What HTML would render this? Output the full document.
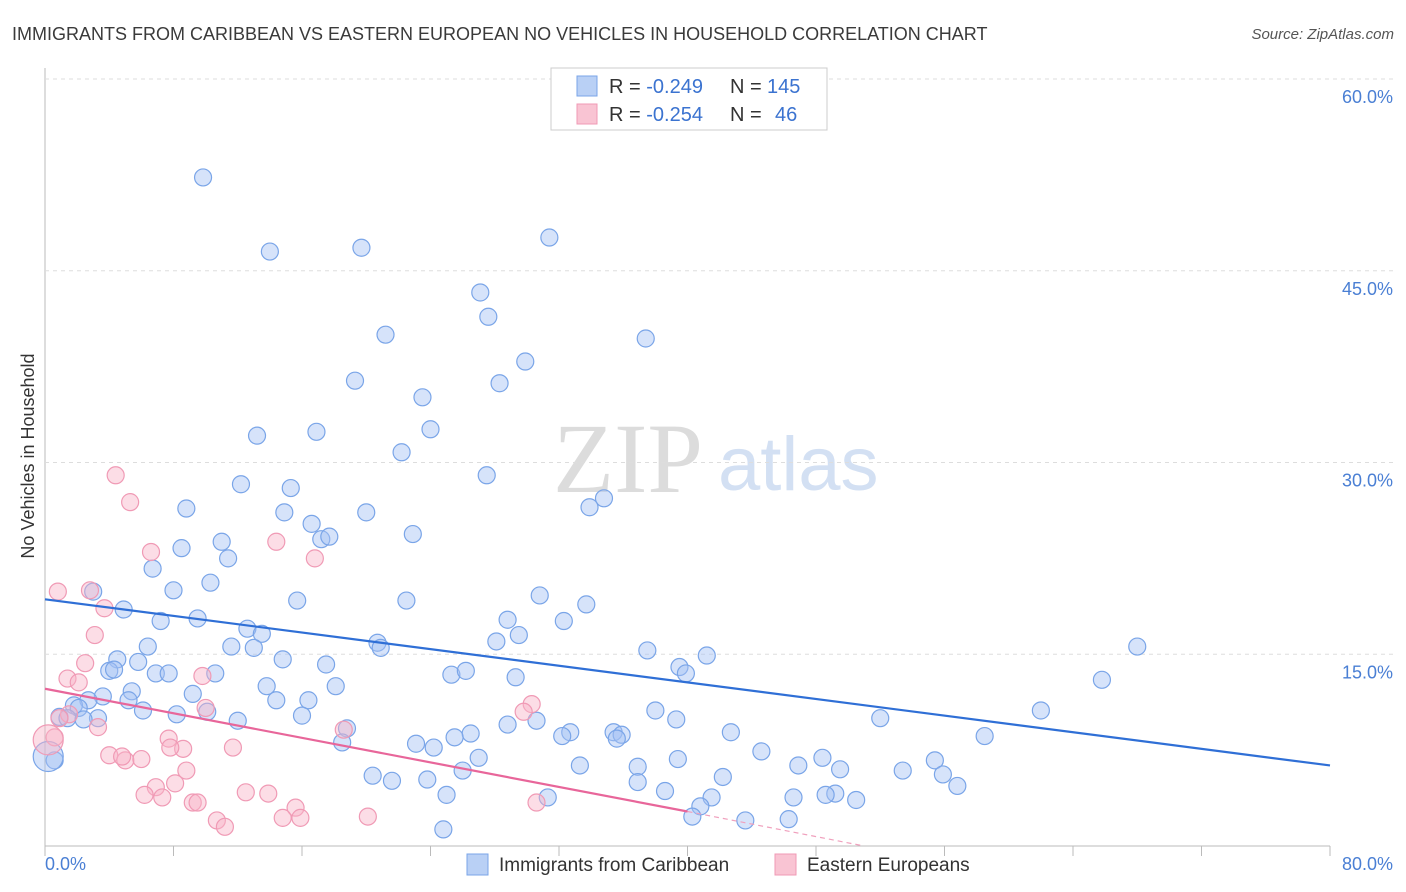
<!DOCTYPE html>
<html><head><meta charset="utf-8"><style>
body{margin:0;background:#fff;font-family:"Liberation Sans",sans-serif;}
#wrap{position:relative;width:1406px;height:892px;overflow:hidden;}
</style></head><body>
<div id="wrap">
<svg id="svg" width="1406" height="892" xmlns="http://www.w3.org/2000/svg">
<text x="12" y="40" font-size="18" fill="#3a3a3a">IMMIGRANTS FROM CARIBBEAN VS EASTERN EUROPEAN NO VEHICLES IN HOUSEHOLD CORRELATION CHART</text>
<text x="1394" y="39" font-size="15" font-style="italic" fill="#555" text-anchor="end">Source: ZipAtlas.com</text>
<text x="553" y="492" font-size="100" font-family="Liberation Serif,serif" fill="#dcdcdc">ZIP</text>
<text x="718" y="490" font-size="76" fill="#d3e0f3">atlas</text>
<text x="34" y="456" font-size="18" fill="#333" text-anchor="middle" transform="rotate(-90 34 456)">No Vehicles in Household</text>
<g id="grid"></g><g id="pts"></g><g id="lines"></g>
<rect x="551" y="68" width="276" height="62" fill="#fff" stroke="#ccc"/>
<rect x="577" y="76" width="20" height="20" fill="#b9d0f5" stroke="#7aa5e8"/>
<rect x="577" y="104" width="20" height="20" fill="#f9c4d3" stroke="#f09ab5"/>
<text x="609" y="93" font-size="20" fill="#333">R = <tspan fill="#3b73d0">-0.249</tspan></text>
<text x="730" y="93" font-size="20" fill="#333">N =</text>
<text x="767" y="93" font-size="20" fill="#3b73d0">145</text>
<text x="609" y="121" font-size="20" fill="#333">R = <tspan fill="#3b73d0">-0.254</tspan></text>
<text x="730" y="121" font-size="20" fill="#333">N =</text>
<text x="775" y="121" font-size="20" fill="#3b73d0">46</text>
<text x="45" y="870" font-size="18" fill="#4a7fd4">0.0%</text>
<text x="1393" y="870" font-size="18" fill="#4a7fd4" text-anchor="end">80.0%</text>
<rect x="467" y="854" width="21" height="21" fill="#b9d0f5" stroke="#7aa5e8"/>
<text x="499" y="871" font-size="19" fill="#333">Immigrants from Caribbean</text>
<rect x="775" y="854" width="21" height="21" fill="#f9c4d3" stroke="#f09ab5"/>
<text x="807" y="871" font-size="19" fill="#333">Eastern Europeans</text>
</svg></div>
<script>
const yTicks=[15,30,45,60];
const yTickLabels=["15.0%","30.0%","45.0%","60.0%"];
const xTicks=[0,8,16,24,32,40,48,56,64,72,80];
const blueX=[9.84,14.0,19.7,31.4,27.1,27.6,21.2,37.4,29.9,19.3,28.3,23.5,13.2,16.9,24.0,22.2,27.5,12.2,15.3,8.8,14.9,20.0,16.6,34.8,33.9,17.2,17.7,22.9,11.0,8.5,11.4,6.7,10.3,8.0,3.0,15.7,22.5,30.8,33.7,4.9,9.5,7.2,28.8,32.3,12.6,13.5,28.1,29.5,20.7,20.9,6.4,11.6,13.0,37.5,41.2,4.5,5.8,14.8,17.5,39.5,39.9,4.0,4.3,6.9,7.7,10.6,25.3,26.2,29.3,68.0,65.8,13.8,18.1,5.4,3.6,9.2,2.7,14.4,16.4,5.2,1.8,2.1,6.1,10.1,8.2,38.0,62.0,52.0,0.9,1.4,3.3,2.4,12.0,16.0,18.8,28.8,30.6,39.3,26.5,32.7,32.2,35.4,35.9,42.7,58.5,35.6,25.5,18.5,23.1,24.2,44.6,39.4,55.4,48.4,33.3,27.0,26.0,36.9,46.9,49.5,53.4,55.9,20.4,21.6,23.8,42.2,56.8,36.9,38.6,31.3,49.2,48.6,41.5,46.6,50.5,25.0,40.8,40.3,43.6,46.3,24.8,0.6,0.2];
const blueY=[52.3,46.5,46.8,47.6,43.3,41.4,40.0,39.7,37.9,36.4,36.2,35.1,32.1,32.4,32.6,30.8,29.0,28.3,28.0,26.4,26.1,26.1,25.2,27.2,26.5,24.0,24.2,24.4,23.8,23.3,22.5,21.7,20.6,20.0,19.9,19.2,19.2,19.6,18.9,18.5,17.8,17.6,17.7,17.6,17.0,16.6,16.0,16.5,15.9,15.5,15.6,15.6,15.5,15.3,14.9,14.6,14.4,14.6,14.2,14.0,13.5,13.7,13.8,13.5,13.5,13.5,13.4,13.7,13.2,15.6,13.0,12.5,12.5,12.1,11.7,11.9,11.4,11.4,11.4,11.4,11.0,10.8,10.6,10.5,10.3,10.6,10.6,10.0,10.1,10.0,10.0,9.9,9.8,10.2,9.2,9.5,9.8,9.9,8.8,8.9,8.6,8.9,8.7,8.9,8.6,8.4,8.5,8.1,8.0,7.7,7.4,6.8,6.7,6.9,6.3,6.9,5.9,6.2,6.3,6.0,5.9,5.6,5.5,5.1,5.2,5.4,4.7,5.0,4.3,3.8,4.1,4.0,3.8,3.8,3.6,4.0,3.1,2.3,2.0,2.1,1.3,6.7,7.0];
const pinkX=[4.4,5.3,0.8,2.8,3.7,6.6,14.4,16.8,3.1,1.4,2.5,2.1,9.8,10.0,30.3,29.8,3.3,1.5,0.9,0.6,18.6,7.7,8.6,7.8,11.7,4.0,5.0,6.0,4.8,8.8,6.9,6.2,7.3,8.1,12.5,13.9,9.2,9.5,15.6,14.8,15.9,20.1,10.7,11.2,30.6,0.2];
const pinkY=[29.0,26.9,19.9,20.0,18.6,23.0,23.8,22.5,16.5,13.1,14.3,12.8,13.3,10.8,11.1,10.5,9.3,10.3,10.0,8.5,9.1,8.4,7.6,7.7,7.7,7.1,6.7,6.8,7.0,5.9,4.6,4.0,3.8,4.9,4.2,4.1,3.4,3.4,3.0,2.2,2.2,2.3,2.0,1.5,3.4,8.3];
const blueTrend=[[0,19.3],[80,6.3]];
const pinkTrend=[[0,12.3],[40,2.7]];
const pinkTrendExt=[[40,2.7],[51,0]];
const X0=45,X1=1330,Y0=846,Y60=79;
const sx=v=>X0+(X1-X0)*v/80;
const sy=v=>Y0-(Y0-Y60)*v/60;
const NS="http://www.w3.org/2000/svg";
function mk(tag,parent,attrs){const e=document.createElementNS(NS,tag);for(const k in attrs)e.setAttribute(k,attrs[k]);parent.appendChild(e);return e;}
const grid=document.getElementById('grid');
let ax=mk('line',grid,{x1:X0,x2:X0,y1:68,y2:Y0,stroke:'#bbb'});


let bx=mk('line',grid,{x1:X0,x2:X1,y1:Y0,y2:Y0,stroke:'#bbb'});


yTicks.forEach((t,i)=>{
 const g=mk('line',grid,{x1:X0,x2:1393,y1:sy(t),y2:sy(t),stroke:'#ddd','stroke-dasharray':'4,4'});
 
 
 const tx=mk('text',grid,{x:1393,y:sy(t)+24,'font-size':18,fill:'#4a7fd4','text-anchor':'end'});
 tx.textContent=yTickLabels[i];
 
 
});
xTicks.forEach(t=>{
 const l=mk('line',grid,{x1:sx(t),x2:sx(t),y1:Y0,y2:Y0+10,stroke:'#bbb'});
 
 
});
const pts=document.getElementById('pts');
function dots(xs,ys,fill,stroke,name){xs.forEach((x,i)=>{const r=(x<0.5)?15:8.5;
 const c=mk('circle',pts,{cx:sx(x),cy:sy(ys[i]),r:r,fill:fill,stroke:stroke,'stroke-width':1.2});
 
 });}
dots(blueX,blueY,'rgba(164,194,244,0.45)','#7aa5e8','caribbean-point');
dots(pinkX,pinkY,'rgba(248,180,200,0.45)','#f09ab5','eastern-european-point');
const lines=document.getElementById('lines');
let l1=mk('line',lines,{x1:sx(blueTrend[0][0]),y1:sy(blueTrend[0][1]),x2:sx(blueTrend[1][0]),y2:sy(blueTrend[1][1]),stroke:'#2f6fd6','stroke-width':2.2});


let l2=mk('line',lines,{x1:sx(pinkTrend[0][0]),y1:sy(pinkTrend[0][1]),x2:sx(pinkTrend[1][0]),y2:sy(pinkTrend[1][1]),stroke:'#e8669a','stroke-width':2.2});


let l3=mk('line',lines,{x1:sx(pinkTrendExt[0][0]),y1:sy(pinkTrendExt[0][1]),x2:sx(pinkTrendExt[1][0]),y2:sy(pinkTrendExt[1][1]),stroke:'#f0a0bd','stroke-width':1.2,'stroke-dasharray':'5,4'});


</script>
</body></html>
